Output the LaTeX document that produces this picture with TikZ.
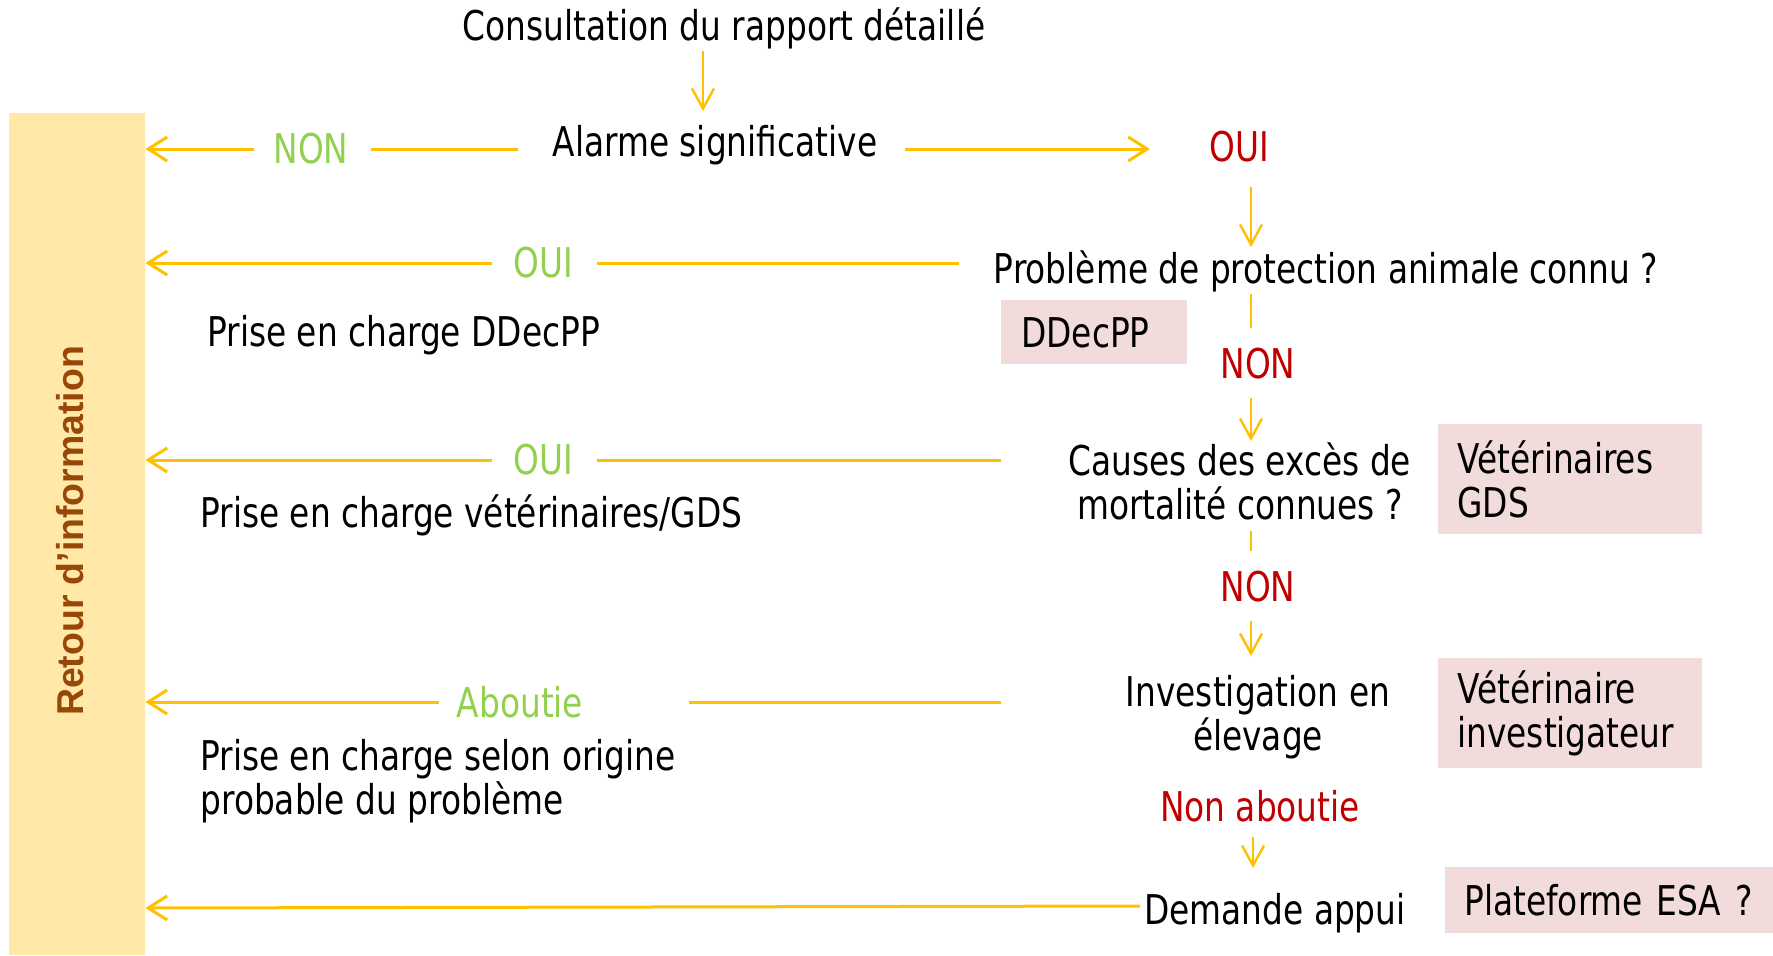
\documentclass[tikz,border=0pt]{standalone}
\usepackage{fontspec}
\setmainfont{DejaVu Sans}[FakeStretch=0.80]
\newfontfamily\retourfont{Liberation Sans}
\usetikzlibrary{arrows.meta,calc}
\definecolor{ylw}{HTML}{FFC000}
\definecolor{grn}{HTML}{92D050}
\definecolor{rd}{HTML}{C00000}
\definecolor{boxy}{HTML}{FFE8A8}
\definecolor{pinkbg}{HTML}{F2DCDB}
\definecolor{brn}{HTML}{974806}
\begin{document}
\begin{tikzpicture}[x=0.5pt,y=-0.5pt,
  txt/.style={inner sep=0pt, font=\fontsize{20.5}{22}\selectfont, align=center},
  gtxt/.style={txt, text=grn},
  rtxt/.style={txt, text=rd},
  tag/.style={fill=pinkbg, inner xsep=9.5pt, inner ysep=0pt, anchor=north west,
     align=left, font=\fontsize{20.5}{22}\selectfont},
  hl/.style={draw=ylw, line width=1.5pt},
  harr/.style={hl, -{Straight Barb[length=9.5pt,width=12pt]}},
  varr/.style={draw=ylw, line width=1.2pt, -{Straight Barb[length=10pt,width=11pt]}},
  vl/.style={draw=ylw, line width=1.2pt}]
\useasboundingbox (0,0) rectangle (1773,955);

% left feedback band
\node[fill=boxy, inner sep=0pt, minimum width=68pt, minimum height=421pt] (retour) at (77,534) {};
\node[rotate=90, inner sep=0pt, text=brn, font=\retourfont\bfseries\fontsize{18.7}{20}\selectfont] (retourtxt) at (70,531) {Retour d’information};

% main column
\node[txt] (consult) at (724,28) {Consultation du rapport détaillé};
\node[txt] (alarme) at (715,145) {Alarme significative};
\node[gtxt] (nonA) at (311,149) {NON};
\node[rtxt] (ouiA) at (1239,147) {OUI};
\node[txt] (probleme) at (1326,271) {Problème de protection animale connu ?};
\node[gtxt] (ouiB) at (543,263) {OUI};
\node[txt, anchor=west] (priseA) at (207,335) {Prise en charge DDecPP};
\node[tag, text width=73pt, minimum height=32pt, inner xsep=10pt] (ddecpp) at (1001,300) {DDecPP};
\node[rtxt] (nonB) at (1258,364) {NON};
\node[txt] (causes) at (1240,481) {Causes des excès de\\mortalité connues ?};
\node[gtxt] (ouiC) at (543,460) {OUI};
\node[txt, anchor=west] (priseB) at (200,515) {Prise en charge vétérinaires/GDS};
\node[tag, text width=113pt, minimum height=55pt] (vetgds) at (1438,424) {Vétérinaires\\GDS};
\node[rtxt] (nonC) at (1258,587) {NON};
\node[txt] (invest) at (1258,717) {Investigation en\\élevage};
\node[gtxt] (aboutie) at (520,702) {Aboutie};
\node[txt, anchor=west, align=left] (priseC) at (200,781) {Prise en charge selon origine\\probable du problème};
\node[tag, text width=113pt, minimum height=55pt] (vetinv) at (1438,658) {Vétérinaire\\investigateur};
\node[rtxt] (nonab) at (1260,806) {Non aboutie};
\node[txt] (demande) at (1275,913) {Demande appui};
\node[tag, text width=145pt, minimum height=33pt] (plateforme) at (1445,867) {Plateforme ESA ?};

% vertical connectors
\draw[varr] ([shift={(-21,23)}]consult.center) -- ([shift={(-12,-34)}]alarme.center);
\draw[varr] ([shift={(12,40)}]ouiA.center) -- ([shift={(-75,-24)}]probleme.center);
\draw[vl] ([shift={(-75,23)}]probleme.center) -- ([shift={(-7,-36)}]nonB.center);
\draw[varr] ([shift={(-7,34)}]nonB.center) -- ([shift={(11,-40)}]causes.center);
\draw[vl] ([shift={(11,50)}]causes.center) -- ([shift={(-7,-36)}]nonC.center);
\draw[varr] ([shift={(-7,34)}]nonC.center) -- ([shift={(-7,-61)}]invest.center);
\draw[varr] ([shift={(-7,31)}]nonab.center) -- ([shift={(-22,-45)}]demande.center);

% horizontal connectors
\draw[hl] ([shift={(-197,4)}]alarme.center) -- ([shift={(60,0)}]nonA.center);
\draw[harr] ([shift={(-57,0)}]nonA.center) -- (retour.east |- nonA.center);
\draw[harr] ([shift={(190,4)}]alarme.center) -- ([shift={(-89,2)}]ouiA.center);

\draw[hl] ([shift={(-367,-8)}]probleme.center) -- ([shift={(54,0)}]ouiB.center);
\draw[harr] ([shift={(-51,0)}]ouiB.center) -- (retour.east |- ouiB.center);

\draw[hl] ([shift={(-239,-21)}]causes.center) -- ([shift={(54,0)}]ouiC.center);
\draw[harr] ([shift={(-51,0)}]ouiC.center) -- (retour.east |- ouiC.center);

\draw[hl] ([shift={(-257,-15)}]invest.center) -- ([shift={(169,0)}]aboutie.center);
\draw[harr] ([shift={(-81,0)}]aboutie.center) -- (retour.east |- aboutie.center);

\draw[harr] ([shift={(-135,-7)}]demande.center) -- ($(retour.east |- demande.center)+(0,-5)$);
\end{tikzpicture}
\end{document}
